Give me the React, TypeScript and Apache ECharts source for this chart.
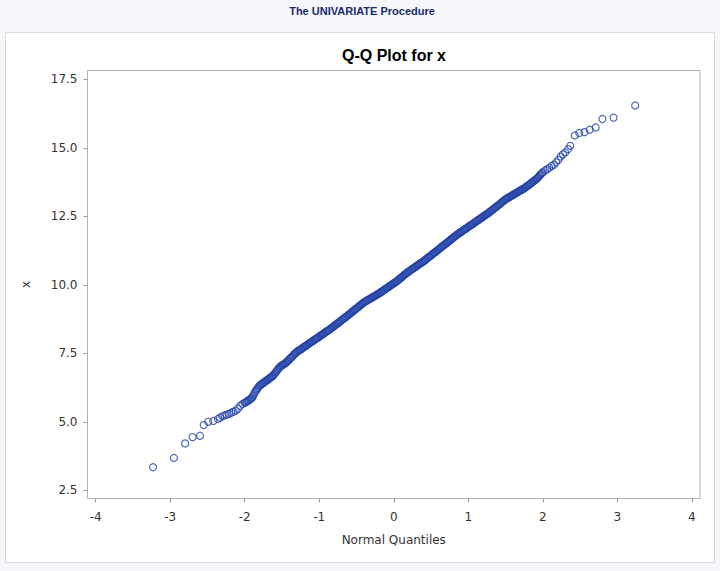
import React, { useEffect, useRef } from "react";
import * as echarts from "echarts";

// Q-Q plot points: [normal quantile, x value]
const lowerTail: number[][] = [
  [-3.23, 3.34], [-2.95, 3.68], [-2.80, 4.21], [-2.70, 4.44], [-2.60, 4.49],
  [-2.55, 4.88], [-2.49, 5.0], [-2.42, 5.03], [-2.36, 5.1], [-2.33, 5.15],
];

const centralBand: number[][] = [
  [-2.30, 5.2], [-2.27, 5.23], [-2.24, 5.26], [-2.21, 5.29], [-2.18, 5.33], [-2.15, 5.37],
  [-2.12, 5.41], [-2.09, 5.48], [-2.06, 5.58], [-2.03, 5.65], [-2.0, 5.69],
  [-1.975, 5.73], [-1.95, 5.78], [-1.925, 5.83], [-1.9, 5.88], [-1.875, 6.01], [-1.85, 6.14],
  [-1.825, 6.23], [-1.8, 6.32], [-1.775, 6.37], [-1.75, 6.42], [-1.725, 6.47], [-1.7, 6.52],
  [-1.675, 6.57], [-1.65, 6.62], [-1.625, 6.67], [-1.6, 6.75], [-1.575, 6.84], [-1.55, 6.93],
  [-1.525, 7.01], [-1.5, 7.06], [-1.475, 7.1], [-1.45, 7.15], [-1.425, 7.21], [-1.4, 7.28],
  [-1.375, 7.35], [-1.35, 7.42], [-1.325, 7.49], [-1.3, 7.55], [-1.275, 7.6], [-1.25, 7.64],
  [-1.225, 7.69], [-1.2, 7.74], [-1.175, 7.78], [-1.15, 7.83], [-1.125, 7.88], [-1.1, 7.92],
  [-1.075, 7.97], [-1.05, 8.02], [-1.025, 8.06], [-1.0, 8.11], [-0.975, 8.16], [-0.95, 8.2],
  [-0.925, 8.25], [-0.9, 8.3], [-0.875, 8.34], [-0.85, 8.39], [-0.825, 8.44], [-0.8, 8.5],
  [-0.775, 8.55], [-0.75, 8.6], [-0.725, 8.65], [-0.7, 8.71], [-0.675, 8.76], [-0.65, 8.81],
  [-0.625, 8.86], [-0.6, 8.92], [-0.575, 8.97], [-0.55, 9.03], [-0.525, 9.08], [-0.5, 9.14],
  [-0.475, 9.19], [-0.45, 9.25], [-0.425, 9.3], [-0.4, 9.36], [-0.375, 9.4], [-0.35, 9.44],
  [-0.325, 9.48], [-0.3, 9.52], [-0.275, 9.56], [-0.25, 9.6], [-0.225, 9.64], [-0.2, 9.68],
  [-0.175, 9.73], [-0.15, 9.77], [-0.125, 9.82], [-0.1, 9.87], [-0.075, 9.91], [-0.05, 9.96],
  [-0.025, 10.01], [0.0, 10.05], [0.025, 10.1], [0.05, 10.15], [0.075, 10.21], [0.1, 10.26],
  [0.125, 10.32], [0.15, 10.38], [0.175, 10.43], [0.2, 10.48], [0.225, 10.53], [0.25, 10.58],
  [0.275, 10.62], [0.3, 10.67], [0.325, 10.72], [0.35, 10.77], [0.375, 10.81], [0.4, 10.86],
  [0.425, 10.91], [0.45, 10.97], [0.475, 11.02], [0.5, 11.07], [0.525, 11.13], [0.55, 11.18],
  [0.575, 11.23], [0.6, 11.29], [0.625, 11.34], [0.65, 11.4], [0.675, 11.45], [0.7, 11.5],
  [0.725, 11.56], [0.75, 11.61], [0.775, 11.67], [0.8, 11.72], [0.825, 11.78], [0.85, 11.83],
  [0.875, 11.88], [0.9, 11.92], [0.925, 11.97], [0.95, 12.02], [0.975, 12.06], [1.0, 12.11],
  [1.025, 12.16], [1.05, 12.2], [1.075, 12.25], [1.1, 12.3], [1.125, 12.35], [1.15, 12.39],
  [1.175, 12.44], [1.2, 12.49], [1.225, 12.54], [1.25, 12.58], [1.275, 12.63], [1.3, 12.68],
  [1.325, 12.74], [1.35, 12.79], [1.375, 12.84], [1.4, 12.9], [1.425, 12.95], [1.45, 13.01],
  [1.475, 13.06], [1.5, 13.12], [1.525, 13.16], [1.55, 13.2], [1.575, 13.24], [1.6, 13.28],
  [1.625, 13.32], [1.65, 13.36], [1.675, 13.4], [1.7, 13.44], [1.725, 13.48], [1.75, 13.52],
  [1.775, 13.57], [1.8, 13.62], [1.825, 13.67], [1.85, 13.72], [1.875, 13.78], [1.9, 13.83],
  [1.925, 13.88], [1.95, 13.96], [1.975, 14.03], [2.0, 14.11],
  [2.03, 14.17], [2.06, 14.22], [2.09, 14.27], [2.12, 14.34], [2.15, 14.38], [2.18, 14.47],
  [2.21, 14.56], [2.24, 14.68], [2.27, 14.76], [2.3, 14.83], [2.34, 14.95], [2.37, 15.07],
];

// further points of the dense central band, between the ones above
const centralBandInner: number[][] = [
  [-1.9875, 5.71], [-1.9625, 5.76], [-1.9375, 5.8], [-1.9125, 5.86], [-1.8875, 5.95],
  [-1.8625, 6.08], [-1.8375, 6.18], [-1.8125, 6.28], [-1.7875, 6.34], [-1.7625, 6.4],
  [-1.7375, 6.44], [-1.7125, 6.5], [-1.6875, 6.54], [-1.6625, 6.6], [-1.6375, 6.64],
  [-1.6125, 6.71], [-1.5875, 6.8], [-1.5625, 6.88], [-1.5375, 6.97], [-1.5125, 7.04],
  [-1.4875, 7.08], [-1.4625, 7.12], [-1.4375, 7.18], [-1.4125, 7.24], [-1.3875, 7.32],
  [-1.3625, 7.38], [-1.3375, 7.46], [-1.3125, 7.52], [-1.2875, 7.58], [-1.2625, 7.62],
  [-1.2375, 7.66], [-1.2125, 7.72], [-1.1875, 7.76], [-1.1625, 7.8], [-1.1375, 7.86],
  [-1.1125, 7.9], [-1.0875, 7.94], [-1.0625, 8.0], [-1.0375, 8.04], [-1.0125, 8.08],
  [-0.9875, 8.14], [-0.9625, 8.18], [-0.9375, 8.22], [-0.9125, 8.28], [-0.8875, 8.32],
  [-0.8625, 8.36], [-0.8375, 8.42], [-0.8125, 8.47], [-0.7875, 8.52], [-0.7625, 8.58],
  [-0.7375, 8.62], [-0.7125, 8.68], [-0.6875, 8.74], [-0.6625, 8.78], [-0.6375, 8.84],
  [-0.6125, 8.89], [-0.5875, 8.94], [-0.5625, 9.0], [-0.5375, 9.06], [-0.5125, 9.11],
  [-0.4875, 9.16], [-0.4625, 9.22], [-0.4375, 9.28], [-0.4125, 9.33], [-0.3875, 9.38],
  [-0.3625, 9.42], [-0.3375, 9.46], [-0.3125, 9.5], [-0.2875, 9.54], [-0.2625, 9.58],
  [-0.2375, 9.62], [-0.2125, 9.66], [-0.1875, 9.7], [-0.1625, 9.75], [-0.1375, 9.8],
  [-0.1125, 9.84], [-0.0875, 9.89], [-0.0625, 9.94], [-0.0375, 9.98], [-0.0125, 10.03],
  [0.0125, 10.08], [0.0375, 10.12], [0.0625, 10.18], [0.0875, 10.24], [0.1125, 10.29],
  [0.1375, 10.35], [0.1625, 10.4], [0.1875, 10.46], [0.2125, 10.5], [0.2375, 10.56],
  [0.2625, 10.6], [0.2875, 10.64], [0.3125, 10.7], [0.3375, 10.74], [0.3625, 10.79],
  [0.3875, 10.84], [0.4125, 10.88], [0.4375, 10.94], [0.4625, 11.0], [0.4875, 11.04],
  [0.5125, 11.1], [0.5375, 11.16], [0.5625, 11.2], [0.5875, 11.26], [0.6125, 11.32],
  [0.6375, 11.37], [0.6625, 11.42], [0.6875, 11.48], [0.7125, 11.53], [0.7375, 11.58],
  [0.7625, 11.64], [0.7875, 11.7], [0.8125, 11.75], [0.8375, 11.8], [0.8625, 11.86],
  [0.8875, 11.9], [0.9125, 11.94], [0.9375, 12.0], [0.9625, 12.04], [0.9875, 12.08],
  [1.0125, 12.14], [1.0375, 12.18], [1.0625, 12.22], [1.0875, 12.28], [1.1125, 12.32],
  [1.1375, 12.37], [1.1625, 12.42], [1.1875, 12.46], [1.2125, 12.52], [1.2375, 12.56],
  [1.2625, 12.6], [1.2875, 12.66], [1.3125, 12.71], [1.3375, 12.76], [1.3625, 12.82],
  [1.3875, 12.87], [1.4125, 12.92], [1.4375, 12.98], [1.4625, 13.04], [1.4875, 13.09],
  [1.5125, 13.14], [1.5375, 13.18], [1.5625, 13.22], [1.5875, 13.26], [1.6125, 13.3],
  [1.6375, 13.34], [1.6625, 13.38], [1.6875, 13.42], [1.7125, 13.46], [1.7375, 13.5],
  [1.7625, 13.54], [1.7875, 13.6], [1.8125, 13.64], [1.8375, 13.7], [1.8625, 13.75],
  [1.8875, 13.8], [1.9125, 13.86], [1.9375, 13.92], [1.9625, 14.0], [1.9875, 14.07],
];

const upperTail: number[][] = [
  [2.43, 15.45], [2.49, 15.54], [2.56, 15.57], [2.63, 15.66], [2.71, 15.74],
  [2.8, 16.05], [2.95, 16.1], [3.24, 16.54],
];

const xTicks = [-4, -3, -2, -1, 0, 1, 2, 3, 4];
const yTicks = [2.5, 5.0, 7.5, 10.0, 12.5, 15.0, 17.5];

const procTitle = "The UNIVARIATE Procedure";
const plotTitle = "Q-Q Plot for x";
const xName = "Normal Quantiles";
const yName = "x";

export default function App() {
  const ref = useRef<HTMLDivElement>(null);
  useEffect(() => {
    if (!ref.current) return;
    const chart = echarts.init(ref.current, null, { renderer: "svg" });
    const titleFont = "'Liberation Sans', Arial, sans-serif";
    const axisFont = "'DejaVu Sans', Verdana, sans-serif";
    const tick = { show: true, inside: false, length: 4, lineStyle: { color: "#9a9a9a" } };
    chart.setOption({
      animation: false,
      backgroundColor: "#f5f7fa",
      graphic: [
        {
          type: "rect",
          shape: { x: 5.5, y: 32.5, width: 709, height: 530 },
          style: { fill: "#ffffff", stroke: "#d8dbe0", lineWidth: 1 },
          z: -10,
          silent: true,
        },
        {
          type: "text",
          x: 362,
          y: 11,
          style: {
            text: procTitle,
            fill: "#1a2a70",
            font: `bold 11px ${titleFont}`,
            textAlign: "center",
            textVerticalAlign: "middle",
          },
        },
        {
          type: "text",
          x: 394,
          y: 55,
          style: {
            text: plotTitle,
            fill: "#000000",
            font: `bold 16px ${titleFont}`,
            textAlign: "center",
            textVerticalAlign: "middle",
          },
        },
      ],
      grid: {
        left: 87.5,
        right: 20,
        top: 70.5,
        bottom: 72.5,
        show: true,
        backgroundColor: "#ffffff",
        borderColor: "#b4b4b4",
        borderWidth: 1,
        containLabel: false,
      },
      xAxis: {
        type: "value",
        min: -4.11,
        max: 4.11,
        name: xName,
        nameLocation: "middle",
        nameGap: 35,
        nameTextStyle: { color: "#333333", fontSize: 12, fontFamily: axisFont },
        axisLine: { show: false, onZero: false },
        splitLine: { show: false },
        axisTick: { ...tick, customValues: xTicks },
        axisLabel: {
          customValues: xTicks,
          color: "#333333",
          fontSize: 12,
          fontFamily: axisFont,
          margin: 12,
        },
      },
      yAxis: {
        type: "value",
        min: 2.2,
        max: 17.82,
        name: yName,
        nameLocation: "middle",
        nameGap: 56,
        nameRotate: 90,
        nameTextStyle: { color: "#333333", fontSize: 12, fontFamily: axisFont },
        axisLine: { show: false, onZero: false },
        splitLine: { show: false },
        axisTick: { ...tick, customValues: yTicks },
        axisLabel: {
          customValues: yTicks,
          color: "#333333",
          fontSize: 12,
          fontFamily: axisFont,
          margin: 10,
          formatter: (v: number) => v.toFixed(1),
        },
      },
      series: [
        {
          type: "scatter",
          symbol: "circle",
          symbolSize: 7,
          data: [...lowerTail, ...centralBand, ...centralBandInner, ...upperTail],
          itemStyle: {
            color: "rgba(0,0,0,0)",
            borderColor: "#2443a8",
            borderWidth: 1.2,
          },
        },
      ],
    });
    return () => chart.dispose();
  }, []);
  return (
    <div
      ref={ref}
      style={{ position: "absolute", left: 0, top: 0, width: 720, height: 571 }}
    />
  );
}
